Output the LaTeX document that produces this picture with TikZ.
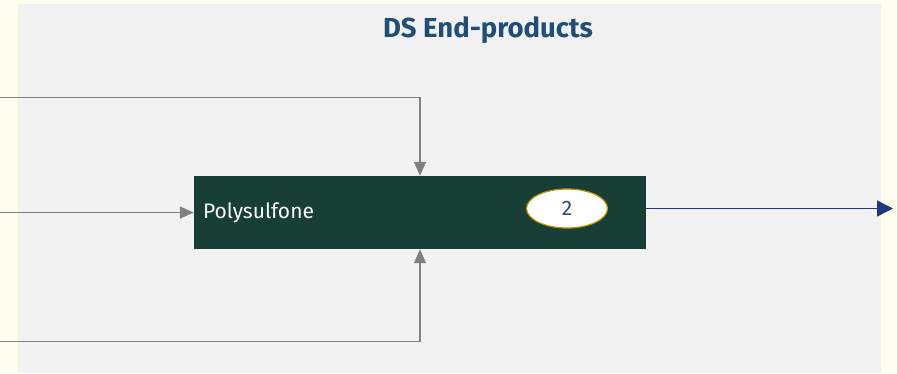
\documentclass[tikz,border=0pt]{standalone}
\usepackage{fontspec}
\setmainfont{Fira Sans}
\usepackage{tikz}
\usetikzlibrary{arrows.meta,shapes.geometric}
\definecolor{outerbg}{HTML}{FEFEF0}
\definecolor{panelbg}{HTML}{F2F2F2}
\definecolor{boxgreen}{HTML}{173F35}
\definecolor{titleblue}{HTML}{1F4E79}
\definecolor{taggold}{HTML}{BF9000}
\definecolor{tagtext}{HTML}{2E4A6B}
\definecolor{feedgrey}{HTML}{808080}
\definecolor{prodblue}{HTML}{1F3A7A}

\begin{document}
\begin{tikzpicture}[x=1pt,y=-1pt]
    \fill[outerbg] (0,0) rectangle (897,373);
    \fill[panelbg] (18,4) rectangle (881,373);
    \useasboundingbox (0,0) rectangle (897,373);

    \node[text=titleblue,font=\fontsize{27.5}{32}\selectfont\bfseries] (title) at (488,30) {DS End-products};

		\begin{scope}[every node/.style={inner sep=0pt}]
    \node[fill=boxgreen,minimum width=452,minimum height=73,text width=434,align=left,
          text=white,font=\fontsize{21}{25}\selectfont] (poly) at (420,212.5) {Polysulfone};
    \node[ellipse,draw=taggold,line width=1.2pt,fill=white,minimum width=81,minimum height=39,
          text=tagtext,font=\fontsize{21}{25}\selectfont] (tag) at (567,208.5) {2};
	\end{scope}

    \coordinate (in1) at (0,97.5);
    \coordinate (in2) at (0,212.5);
    \coordinate (in3) at (0,341.5);
    \coordinate (out) at (893,208.5);

	\begin{scope}[>={Triangle[length=14pt,width=12pt]},
              every edge/.style={draw=feedgrey,line width=1.4pt}]
    \path [->] (in1) edge [to path={-| (\tikztotarget)}] (poly);
    \path [->] (in2) edge (poly);
    \path [->] (in3) edge [to path={-| (\tikztotarget)}] (poly);
		\path [->,>={Triangle[length=16pt,width=16pt]}] (tag -| poly.east) edge [draw=prodblue] (out);
\end{scope}
\end{tikzpicture}
\end{document}
